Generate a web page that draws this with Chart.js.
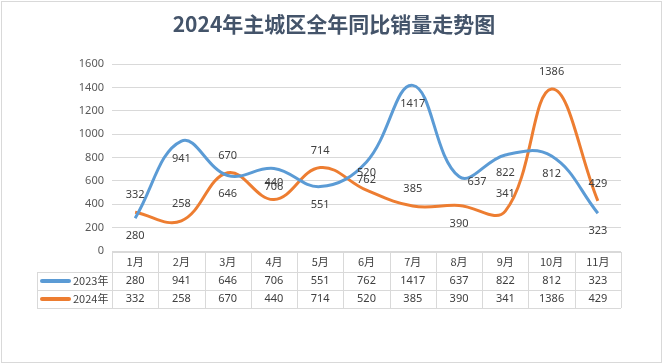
<!DOCTYPE html>
<html>
<head>
<meta charset="utf-8">
<script src="https://cdn.jsdelivr.net/npm/chart.js@4.4.0/dist/chart.umd.min.js"></script>
<style>
  html, body { margin: 0; padding: 0; background: #fff; }
  #wrap { width: 663px; height: 364px; }
</style>
</head>
<body>
<div id="wrap"><canvas id="salesChart" width="663" height="364"></canvas></div>
<script>
const chartTitle = "2024年主城区全年同比销量走势图";
const months = ["1月", "2月", "3月", "4月", "5月", "6月", "7月", "8月", "9月", "10月", "11月"];
const seriesNames = ["2023年", "2024年"];
const sales2023 = [280, 941, 646, 706, 551, 762, 1417, 637, 822, 812, 323];
const sales2024 = [332, 258, 670, 440, 714, 520, 385, 390, 341, 1386, 429];
const yTicks = [0, 200, 400, 600, 800, 1000, 1200, 1400, 1600];

// where Excel put each data label
const labelSide2023 = ["b", "b", "b", "b", "b", "b", "b", "r", "b", "b", "b"];
const labelSide2024 = ["a", "a", "a", "a", "a", "a", "a", "b", "a", "a", "a"];

const textColor = "#404040";
const gridColor = "#d9d9d9";
const numFont = '11px "Noto Sans", "Noto Sans CJK SC", sans-serif';
const cjkFont = '11px "Noto Sans CJK SC", sans-serif';

const dataLabels = {
  id: "dataLabels",
  afterDatasetsDraw(chart) {
    const ctx = chart.ctx;
    ctx.save();
    ctx.font = numFont;
    ctx.fillStyle = textColor;
    ctx.textAlign = "center";
    ctx.textBaseline = "middle";
    chart.data.datasets.forEach((ds, di) => {
      const meta = chart.getDatasetMeta(di);
      meta.data.forEach((pt, i) => {
        const side = ds.labelSide[i];
        let x = pt.x, y = pt.y;
        if (side === "a") y -= 17;
        else if (side === "b") y += 18;
        else { x += 18; y += 5; }
        ctx.fillText(String(ds.data[i]), x, y);
      });
    });
    ctx.restore();
  }
};

const frameAndTable = {
  id: "frameAndTable",
  afterDraw(chart) {
    const ctx = chart.ctx;
    const area = chart.chartArea;
    const xScale = chart.scales.x;
    const n = months.length;
    const colW = (area.right - area.left) / n;
    const top = area.bottom + 1;
    const rowH = [20, 18, 18];
    const r1 = top + rowH[0], r2 = r1 + rowH[1], r3 = r2 + rowH[2];
    const tableLeft = 37;

    ctx.save();
    // outer frame
    ctx.strokeStyle = gridColor;
    ctx.lineWidth = 1;
    ctx.strokeRect(1.5, 1.5, 660, 361);

    // title
    ctx.fillStyle = "#44546a";
    ctx.font = 'bold 21px "Noto Sans CJK SC", sans-serif';
    ctx.textAlign = "center";
    ctx.textBaseline = "middle";
    ctx.fillText(chartTitle, 334, 24);

    // table grid
    ctx.strokeStyle = gridColor;
    ctx.beginPath();
    ctx.moveTo(area.left, top + 0.5); ctx.lineTo(area.right, top + 0.5);
    [r1, r2, r3].forEach(y => { ctx.moveTo(tableLeft, y + 0.5); ctx.lineTo(area.right, y + 0.5); });
    ctx.moveTo(tableLeft + 0.5, r1); ctx.lineTo(tableLeft + 0.5, r3);
    for (let i = 0; i <= n; i++) {
      const x = Math.round(area.left + i * colW) + 0.5;
      ctx.moveTo(x, top); ctx.lineTo(x, r3);
    }
    ctx.stroke();

    // header row
    ctx.fillStyle = textColor;
    ctx.font = cjkFont;
    months.forEach((m, i) => ctx.fillText(m, xScale.getPixelForValue(i), (top + r1) / 2));

    // series rows
    const rowMid = [(r1 + r2) / 2, (r2 + r3) / 2];
    chart.data.datasets.forEach((ds, di) => {
      const y = rowMid[di];
      ctx.strokeStyle = ds.borderColor;
      ctx.lineWidth = 4;
      ctx.lineCap = "round";
      ctx.beginPath();
      ctx.moveTo(42, y); ctx.lineTo(69, y);
      ctx.stroke();
      ctx.fillStyle = textColor;
      ctx.font = cjkFont;
      ctx.textAlign = "left";
      ctx.fillText(ds.label, 73, y);
      ctx.textAlign = "center";
      ctx.font = numFont;
      ds.data.forEach((v, i) => ctx.fillText(String(v), xScale.getPixelForValue(i), y));
    });
    ctx.restore();
  }
};

new Chart(document.getElementById("salesChart"), {
  type: "line",
  data: {
    labels: months,
    datasets: [
      {
        label: seriesNames[0],
        data: sales2023,
        borderColor: "#5b9bd5",
        labelSide: labelSide2023
      },
      {
        label: seriesNames[1],
        data: sales2024,
        borderColor: "#ed7d31",
        labelSide: labelSide2024
      }
    ]
  },
  options: {
    responsive: false,
    animation: false,
    devicePixelRatio: 1,
    layout: { padding: { top: 64, right: 42, bottom: 113, left: 0 } },
    elements: {
      line: { borderWidth: 3, tension: 0.4, capBezierPoints: true },
      point: { radius: 0, hoverRadius: 0 }
    },
    plugins: {
      legend: { display: false },
      title: { display: false },
      tooltip: { enabled: false }
    },
    scales: {
      x: { type: "category", display: false, offset: true },
      y: {
        min: 0,
        max: 1600,
        afterBuildTicks: scale => { scale.ticks = yTicks.map(v => ({ value: v })); },
        afterFit: scale => { scale.width = 112; },
        border: { display: false },
        grid: { color: gridColor, drawTicks: false },
        ticks: {
          color: "#595959",
          padding: 8,
          font: { size: 11, family: '"Noto Sans", sans-serif' },
          callback: v => String(v)
        }
      }
    }
  },
  plugins: [dataLabels, frameAndTable]
});
</script>
</body>
</html>
